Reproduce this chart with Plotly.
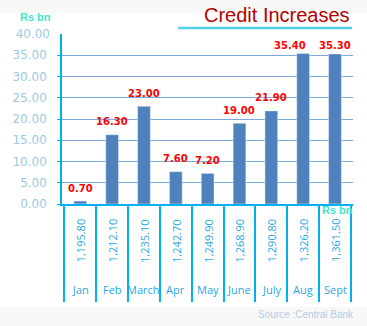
import plotly.graph_objects as go

months = ["Jan", "Feb", "March", "Apr", "May", "June", "July", "Aug", "Sept"]
increases = [0.70, 16.30, 23.00, 7.60, 7.20, 19.00, 21.90, 35.40, 35.30]
totals = ["1,195.80", "1,212.10", "1,235.10", "1,242.70", "1,249.90",
          "1,268.90", "1,290.80", "1,326.20", "1,361.50"]
y_ticks = [0, 5, 10, 15, 20, 25, 30, 35]
y_top = 40

W, H = 367, 326
L, R, T, B = 60, 14, 34, 122
pw, ph = W - L - R, H - T - B

def px(x):
    return (x - L) / pw

def py(y):
    return (H - B - y) / ph

axis_blue = "#00B0F0"
text_blue = "#2AA8E4"
tick_grey = "#9CCAE3"

fig = go.Figure()
fig.add_trace(go.Bar(x=months, y=increases, marker_color="#4F81BD",
                     width=0.4, hoverinfo="skip"))
fig.add_trace(go.Scatter(x=[months[0]], y=[0], yaxis="y2", mode="markers",
                         marker=dict(opacity=0), hoverinfo="skip", showlegend=False))

# label placement: 13px above bar top, but never above a ceiling near the plot top
unit_px = ph / y_top
label_gap = 13
ceiling = y_top - (45 - T) / unit_px  # data value of the highest allowed label centre
label_y = []
clamped = []
for v in increases:
    want = v + label_gap / unit_px
    label_y.append(min(want, ceiling))
    clamped.append(want > ceiling)

ann = []
for i, (m, v) in enumerate(zip(months, increases)):
    xshift = 0
    if clamped[i] and i + 1 < len(increases) and clamped[i + 1]:
        xshift = -13
    ann.append(dict(x=m, y=label_y[i], xref="x", yref="y", text=f"{v:.2f}", showarrow=False,
                    yanchor="middle", xshift=xshift,
                    font=dict(family="DejaVu Sans", size=10, color="#FF0000", weight="bold")))
for m, t in zip(months, totals):
    ann.append(dict(x=m, y=py(241), xref="x", yref="paper", text=t, showarrow=False,
                    textangle=-90, xanchor="center", yanchor="middle",
                    font=dict(family="Open Sans", size=11, color=text_blue)))
for m in months:
    ann.append(dict(x=m, y=py(289), xref="x", yref="paper", text=m, showarrow=False,
                    xanchor="center", yanchor="middle",
                    font=dict(family="Open Sans", size=11, color=text_blue)))

ann += [
    dict(x=px(352), y=py(15), xref="paper", yref="paper", text="Credit Increases",
         showarrow=False, xanchor="right", yanchor="middle",
         font=dict(family="Liberation Sans", size=20, color="#B50000")),
    dict(x=px(33), y=py(17), xref="paper", yref="paper", text="Rs bn",
         showarrow=False, xanchor="center", yanchor="middle",
         font=dict(family="Liberation Sans", size=11, color="#3FE6CC", weight="bold")),
    dict(x=px(337), y=py(210), xref="paper", yref="paper", text="Rs bn",
         showarrow=False, xanchor="center", yanchor="middle",
         font=dict(family="Liberation Sans", size=11, color="#3FE6CC", weight="bold")),
    dict(x=px(356), y=py(314), xref="paper", yref="paper", text="Source :Central Bank",
         showarrow=False, xanchor="right", yanchor="middle",
         font=dict(family="Liberation Sans", size=10, color="#B4CCE8")),
]

shapes = [
    dict(type="rect", xref="paper", yref="paper", x0=-1, x1=2, y0=py(13), y1=py(-5),
         fillcolor="#F8F8F6", line=dict(width=0), layer="below"),
    dict(type="rect", xref="paper", yref="paper", x0=-1, x1=2, y0=py(340), y1=py(307),
         fillcolor="#F8F8F6", line=dict(width=0), layer="below"),
    dict(type="line", xref="paper", yref="paper", x0=px(177), x1=px(352), y0=py(28), y1=py(28),
         line=dict(color="#55D0EA", width=2.5)),
]

fig.update_layout(
    width=W, height=H, margin=dict(l=L, r=R, t=T, b=B),
    paper_bgcolor="white", plot_bgcolor="white", showlegend=False,
    xaxis=dict(type="category", showgrid=False, showline=True, linecolor=axis_blue, linewidth=1.5,
               ticks="outside", tickson="boundaries", ticklen=96, tickcolor=axis_blue,
               tickwidth=1.5, showticklabels=False, fixedrange=True),
    yaxis=dict(range=[0, y_top], tickvals=y_ticks, ticktext=[f"{v:.2f}" for v in y_ticks],
               showgrid=True, gridcolor="#7DA9DC", gridwidth=1,
               showline=True, linecolor=axis_blue, linewidth=1.5,
               ticks="outside", ticklen=3, tickcolor=axis_blue,
               tickfont=dict(family="DejaVu Sans", size=12, color=tick_grey),
               zeroline=False, ticklabelstandoff=8),
    yaxis2=dict(range=[0, y_top], overlaying="y", side="left", tickvals=[y_top],
                ticktext=[f"{y_top:.2f}"], showgrid=False, showline=False, ticks="",
                tickfont=dict(family="DejaVu Sans", size=12, color=tick_grey),
                zeroline=False, ticklabelstandoff=11),
    annotations=ann, shapes=shapes,
)

fig.write_html("out.html")
